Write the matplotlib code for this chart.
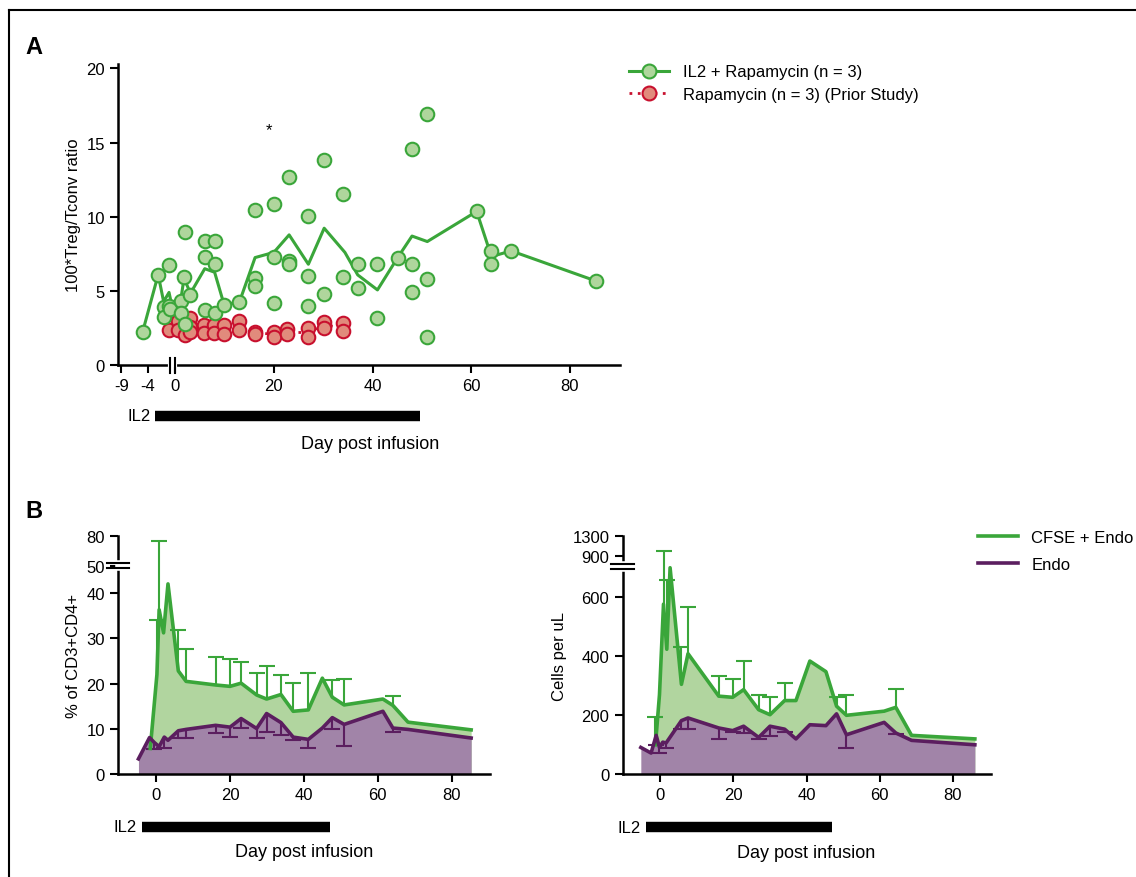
import numpy as np
import matplotlib
matplotlib.use('Agg')
import matplotlib.pyplot as plt
from matplotlib.lines import Line2D
from matplotlib.transforms import blended_transform_factory

plt.rcParams['font.family'] = ['Liberation Sans', 'DejaVu Sans']
plt.rcParams['font.size'] = 12
NARROW = ['Liberation Sans Narrow', 'Liberation Sans', 'DejaVu Sans']

GREEN = '#3aa63a'
GREEN_FILL = '#b1d59f'
GREEN_FACE = '#afd69c'
RED_FACE = '#e18b7c'
RED_EDGE = '#c8102e'
PURPLE = '#5b1e5f'
PURPLE_FILL = '#a184a8'
nan = np.nan

# ---------------- Panel A data ----------------
il2_pts_day = [-5, -2.5, -1.7, -1.7, -0.9, -0.9, -0.8, 1.1, 1.1, 2.0, 1.8, 2.0, 3.1,
               6.0, 8.0, 6.0, 8.0, 6.0, 8.0, 9.9, 13.0, 16.1, 16.1, 16.1, 20, 20, 20,
               23.1, 23.1, 23.1, 27, 27, 27, 30.1, 30.1, 34.1, 34.1, 37, 37, 41, 41,
               45.1, 48, 48, 48, 51.1, 51.1, 51.1, 61.1, 64.1, 64.1, 68.1, 85.2]
il2_pts_val = [2.25, 6.1, 3.95, 3.27, 6.75, 4.0, 3.8, 4.3, 3.5, 8.95, 5.97, 2.8, 4.7,
               8.4, 8.4, 7.3, 6.8, 3.7, 3.5, 4.05, 4.23, 10.47, 5.86, 5.3, 10.86, 7.27, 4.17,
               12.66, 7.0, 6.8, 10.07, 6.04, 4.0, 13.85, 4.77, 11.55, 5.92, 6.8, 5.18, 6.8, 3.15,
               7.25, 14.6, 6.8, 4.95, 16.94, 5.79, 1.91, 10.36, 7.66, 6.8, 7.7, 5.68]
il2_mean_day = [-5, -2.5, -1.7, -0.9, -0.5, 1.1, 1.8, 3.1, 6, 8, 9.9, 13, 16.2, 20, 23.1,
                27, 30.2, 34.4, 37, 41, 45.1, 48, 51.1, 61.1, 64.1, 68.1, 85.2]
il2_mean_val = [2.25, 6.1, 4.28, 4.9, 4.05, 4.3, 5.86, 4.84, 6.5, 6.26, 4.1, 4.23, 7.25, 7.6, 8.78,
                6.8, 9.23, 7.6, 6.08, 5.07, 7.25, 8.7, 8.33, 10.36, 7.32, 7.7, 5.68]
rapa_pts_day = [-0.9, 0.6, 0.6, 2.0, 3.1, 3.1, 3.1, 5.9, 5.9, 7.8, 7.8, 9.9, 9.9, 13, 13,
                16.1, 16.1, 20, 20, 22.7, 22.7, 27, 27, 30.1, 30.1, 34.1, 34.1]
rapa_pts_val = [2.4, 3.0, 2.4, 2.0, 3.2, 2.6, 2.2, 2.7, 2.14, 2.7, 2.14, 2.7, 2.07, 2.97, 2.34,
                2.2, 2.07, 2.25, 1.9, 2.43, 2.07, 2.48, 1.91, 2.93, 2.48, 2.82, 2.3]
rapa_mean_day = [-0.9, 0.6, 2.0, 3.1, 5.9, 7.8, 9.9, 13, 16.1, 20, 22.7, 27, 30.1, 34.1]
rapa_mean_val = [2.4, 2.6, 2.4, 2.6, 2.4, 2.4, 2.4, 2.6, 2.15, 2.1, 2.2, 2.2, 2.7, 2.55]

# ---------------- Panel B data ----------------
pct_cfse_day = [-1.6, 0.2, 0.8, 2, 3.2, 6, 8.1, 16.1, 20, 23, 27.2, 29.9, 33.8, 37.1, 41.2,
                45, 47.7, 50.9, 61.4, 64.1, 68.2, 85.3]
pct_cfse_val = [5.7, 22, 36.3, 31.2, 42, 22.8, 20.5, 19.7, 19.4, 20.1, 17.5, 16.6, 17.6, 13.9,
                14.2, 21.2, 17, 15.3, 16.6, 15.2, 11.5, 9.8]
pct_cfse_top = [nan, 34, 75, nan, nan, 31.8, 27.6, 25.8, 25.4, 24.8, 22.3, 24, 21.9, 20.1,
                22.3, nan, 20.9, 21, nan, 17.2, nan, nan]
pct_endo_day = [-4.8, -1.8, -0.5, 0.8, 2.2, 3.2, 6, 8.1, 16.1, 20, 23, 27.2, 29.9, 33.8, 37.1,
                41.2, 45, 47.7, 50.9, 61.4, 64.1, 68.2, 85.3]
pct_endo_val = [3.4, 8.1, 7, 6.1, 8.2, 7.5, 9.6, 9.9, 10.8, 10.4, 12.3, 10.1, 13.4, 11.4, 8.2,
                7.7, 10.2, 12.5, 11, 13.9, 10.2, 9.9, 8]
pct_endo_low = [nan, nan, 5.5, nan, 5.8, nan, 8, 8, 9.2, 8.2, 10.2, 8, 9.3, 8.6, 7.5, 5.8,
                nan, 10, 6.2, nan, 9.3, nan, nan]

cnt_cfse_day = [-1.3, -0.2, 0.9, 1.8, 2.7, 5.8, 7.6, 16, 19.8, 22.8, 26.9, 30, 34, 37.1, 40.9,
                45.3, 48.2, 50.9, 61.2, 64.4, 68.7, 86]
cnt_cfse_val = [100, 270, 577, 424, 702, 305, 409, 265, 261, 287, 219, 202, 250, 250, 384, 348,
                231, 200, 214, 227, 132, 120]
cnt_cfse_top = [193, nan, 1000, 659, nan, 430, 566, 334, 323, 384, 268, 262, 310, nan, nan, nan,
                261, 270, nan, 290, nan, nan]
cnt_endo_day = [-5.3, -2.5, -1.1, -0.2, 0.7, 1.6, 5.8, 7.6, 16, 19.8, 22.8, 26.9, 30, 34, 37.1,
                40.9, 45.3, 48.2, 50.9, 61.2, 64.4, 68.7, 86]
cnt_endo_val = [91, 72, 132, 91, 109, 106, 182, 191, 157, 148, 163, 125, 163, 153, 120, 168, 165,
                205, 134, 176, 140, 115, 100]
cnt_endo_low = [nan, nan, 100, 72, nan, 88, 155, 155, 118, 143, 140, 120, 130, 145, nan, nan, nan,
                nan, 90, nan, 138, nan, nan]


def piecewise(bx, by):
    bx = np.asarray(bx, float)
    by = np.asarray(by, float)
    return (lambda v: np.interp(v, bx, by), lambda v: np.interp(v, by, bx))


fig = plt.figure(figsize=(11.36, 8.78), dpi=100)

# frame lines
fig.add_artist(Line2D([0.008, 0.008], [0, 0.987], color='black', lw=1.5))
fig.add_artist(Line2D([0.008, 1.0], [0.987, 0.987], color='black', lw=1.5))
fig.text(0.022, 0.938, 'A', fontsize=17, fontweight='bold')
fig.text(0.022, 0.41, 'B', fontsize=17, fontweight='bold')

# ---------------- Panel A ----------------
axA = fig.add_axes([0.104, 0.583, 0.442, 0.343])
fx, ix = piecewise([-1e4, -9, -4, 0, 1e4], [-1e4 - 1.9, -10.9, -5.5, 0, 1e4])
axA.set_xscale('function', functions=(fx, ix))
axA.plot(il2_mean_day, il2_mean_val, color=GREEN, lw=2.2, zorder=2)
axA.plot(rapa_mean_day, rapa_mean_val, color=RED_EDGE, lw=2, ls=(0, (1, 2)), zorder=2)
axA.scatter(rapa_pts_day, rapa_pts_val, s=95, facecolor=RED_FACE, edgecolor=RED_EDGE, lw=1.5, zorder=3)
axA.scatter(il2_pts_day, il2_pts_val, s=95, facecolor=GREEN_FACE, edgecolor=GREEN, lw=1.5, zorder=4)
axA.text(19, 15.6, '*', ha='center', fontsize=12)
axA.set_xlim(-9.65, 90.2)
axA.set_ylim(0, 20.3)
axA.set_yticks([0, 5, 10, 15, 20])
axA.set_xticks([-9, -4, 0, 20, 40, 60, 80])
axA.set_xticklabels(['-9', '-4', '0', '20', '40', '60', '80'])
axA.set_ylabel('100*Treg/Tconv ratio', family=NARROW, fontsize=12)
for sp in ['top', 'right']:
    axA.spines[sp].set_visible(False)
for sp in ['left', 'bottom']:
    axA.spines[sp].set_linewidth(1.8)
axA.tick_params(width=1.5, length=6, labelsize=12)
# x axis break
tb = blended_transform_factory(axA.transData, axA.transAxes)
axA.plot([-0.75, -0.08], [0, 0], color='white', lw=3, transform=tb, clip_on=False, zorder=5)
for xb in (-0.8, -0.05):
    axA.plot([xb, xb], [-0.025, 0.025], color='black', lw=1.5, transform=tb, clip_on=False, zorder=6)
axA.hlines(-3.4, -2.95, 49.7, color='black', lw=7.5, clip_on=False)
axA.text(-3.6, -3.4, 'IL2', ha='right', va='center', fontsize=12)
axA.text(39.5, -5.3, 'Day post infusion', ha='center', va='center', family=NARROW, fontsize=13)
handles = [
    Line2D([], [], color=GREEN, lw=2.2, marker='o', ms=10, mfc=GREEN_FACE, mec=GREEN, mew=1.5),
    Line2D([], [], color=RED_EDGE, lw=2, ls=(0, (1, 2)), marker='o', ms=10, mfc=RED_FACE, mec=RED_EDGE, mew=1.5),
]
fig.legend(handles, ['IL2 + Rapamycin (n = 3)', 'Rapamycin (n = 3) (Prior Study)'],
           loc='upper left', bbox_to_anchor=(0.548, 0.933), frameon=False, fontsize=12,
           handlelength=2.4, labelspacing=0.45, borderaxespad=0)


# ---------------- Panel B ----------------
def bars(ax, days, base, ends, color):
    d, b, e = map(np.asarray, (days, base, ends))
    m = ~np.isnan(e)
    ax.vlines(d[m], b[m], e[m], color=color, lw=1.5, zorder=3)
    ax.plot(d[m], e[m], ls='none', marker='_', ms=11, mew=1.5, color=color, zorder=3)


def panel_b(rect, cdays, cvals, ctops, edays, evals, elows, scale_pts, ylim, yticks, ybreak,
            ylabel, bar_y, label_y):
    ax = fig.add_axes(rect)
    f, i = piecewise(*scale_pts)
    ax.set_yscale('function', functions=(f, i))
    ax.fill_between(cdays, cvals, color=GREEN_FILL, lw=0, zorder=1)
    ax.fill_between(edays, evals, color=PURPLE_FILL, lw=0, zorder=2)
    ax.plot(cdays, cvals, color=GREEN, lw=2.6, zorder=4)
    ax.plot(edays, evals, color=PURPLE, lw=2.6, zorder=4)
    bars(ax, cdays, cvals, ctops, GREEN)
    bars(ax, edays, evals, elows, PURPLE)
    ax.set_xlim(-10.3, 90.3)
    ax.set_ylim(*ylim)
    ax.set_yticks(yticks)
    ax.set_xticks([0, 20, 40, 60, 80])
    ax.set_ylabel(ylabel, family=NARROW, fontsize=12)
    for sp in ['top', 'right']:
        ax.spines[sp].set_visible(False)
    for sp in ['left', 'bottom']:
        ax.spines[sp].set_linewidth(1.8)
    ax.tick_params(width=1.5, length=6, labelsize=12)
    # y axis break
    tr = blended_transform_factory(ax.transAxes, ax.transData)
    e = f(ybreak)
    span = f(ylim[1]) / (rect[3] * 878.0)
    lo, hi = i(e - 2.5 * span), i(e + 2.5 * span)
    ax.plot([0, 0], [lo, hi], color='white', lw=4, transform=tr, clip_on=False, zorder=5)
    for yb in (lo, hi):
        ax.plot([-0.03, 0.03], [yb, yb], color='black', lw=1.5, transform=tr, clip_on=False, zorder=6)
    ax.hlines(bar_y, -3.8, 47, color='black', lw=7.5, clip_on=False)
    ax.text(-5.3, bar_y, 'IL2', ha='right', va='center', fontsize=12)
    ax.text(40, label_y, 'Day post infusion', ha='center', va='center', family=NARROW, fontsize=13)
    return ax


panel_b([0.104, 0.117, 0.327, 0.271], pct_cfse_day, pct_cfse_val, pct_cfse_top,
        pct_endo_day, pct_endo_val, pct_endo_low,
        ([-1e4, 0, 45, 50, 80, 1e4], [-1e4, 0, 45, 46, 52.5, 52.5 + (1e4 - 80) * 0.217]),
        (0, 80), [0, 10, 20, 30, 40, 50, 80], 50, '% of CD3+CD4+', -11.6, -17.1)
panel_b([0.548, 0.117, 0.324, 0.271], cnt_cfse_day, cnt_cfse_val, cnt_cfse_top,
        cnt_endo_day, cnt_endo_val, cnt_endo_low,
        ([-1e5, 0, 700, 900, 1300, 1e5], [-1e5, 0, 700, 742, 807, 807 + (1e5 - 1300) * 0.1625]),
        (0, 1300), [0, 200, 400, 600, 900, 1300], 724, 'Cells per uL', -180, -264)

hb = [Line2D([], [], color=GREEN, lw=2.6), Line2D([], [], color=PURPLE, lw=2.6)]
fig.legend(hb, ['CFSE + Endo', 'Endo'], loc='upper left', bbox_to_anchor=(0.855, 0.403),
           frameon=False, fontsize=12, handlelength=2.4, labelspacing=0.75, borderaxespad=0)

fig.savefig('out.png', dpi=100)
